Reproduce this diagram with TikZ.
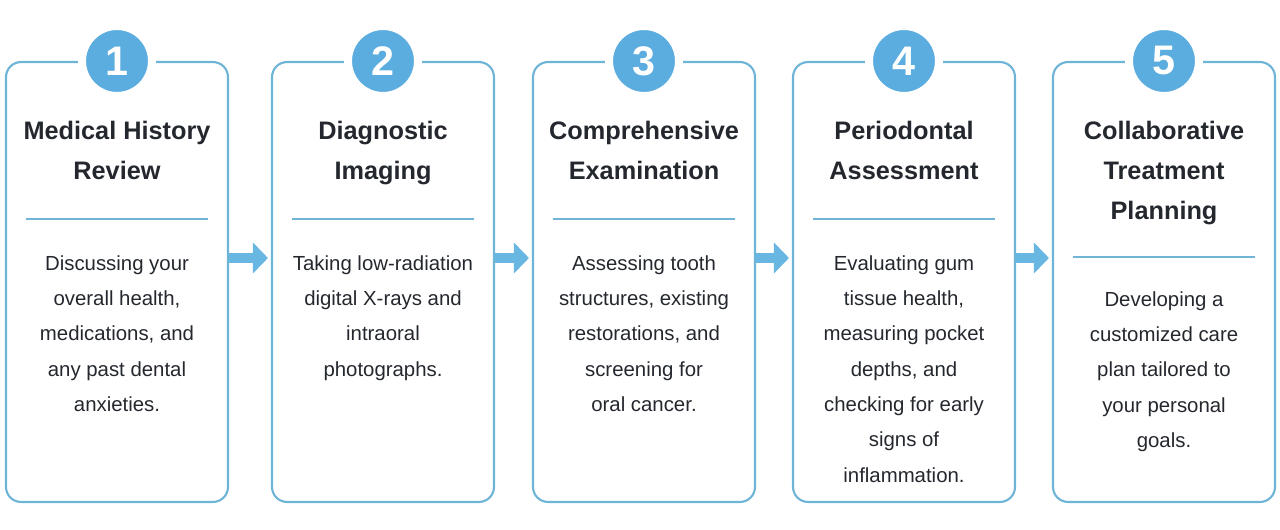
\documentclass[tikz,border=0pt]{standalone}
\usepackage{fontspec}
\setmainfont{Liberation Sans}
\usepackage{tikz}
\usetikzlibrary{calc,arrows.meta,positioning}
\definecolor{cardline}{RGB}{110,180,214}
\definecolor{badgeblue}{RGB}{92,173,223}
\definecolor{flowblue}{RGB}{104,182,226}
\definecolor{inkgray}{RGB}{36,40,46}

\begin{document}
\begin{tikzpicture}[x=0.02cm, y=-0.02cm,
    card/.style={draw=cardline, line width=1.2pt, rounded corners=0.3cm, inner sep=0,
      minimum width=4.44cm, minimum height=8.8cm},
    badge/.style={circle, fill=badgeblue, draw=white, line width=0.16cm, inner sep=0,
      minimum size=1.4cm, text=white, font=\bfseries\fontsize{23.5}{23.5}\selectfont},
    heading/.style={anchor=north, inner sep=0, align=center, text=inkgray,
      font=\bfseries\fontsize{14.4}{22.7}\selectfont},
    body/.style={anchor=north, inner sep=0, align=center, text=inkgray,
      font=\fontsize{11.6}{20.1}\selectfont},
    divider/.style={cardline, line width=1.1pt},
    flow/.style={flowblue, line width=0.22cm, -{Triangle[length=0.3cm, width=0.6cm]}}]
      \useasboundingbox (0,0) rectangle (1280,530);
      % Cards
      \node[card] (c1) at (117,282) {};
      \node[card] (c2) at (383,282) {};
      \node[card] (c3) at (644,282) {};
      \node[card] (c4) at (904,282) {};
      \node[card] (c5) at (1164,282) {};
      % Number badges on the top edge
      \node[badge] (n1) at (c1.north) {1};
      \node[badge] (n2) at (c2.north) {2};
      \node[badge] (n3) at (c3.north) {3};
      \node[badge] (n4) at (c4.north) {4};
      \node[badge] (n5) at (c5.north) {5};
      % Headings
      \node[heading] (t1) at ($(c1.north)+(0,60)$) {Medical History\\Review};
      \node[heading] (t2) at ($(c2.north)+(0,60)$) {Diagnostic\\Imaging};
      \node[heading] (t3) at ($(c3.north)+(0,60)$) {Comprehensive\\Examination};
      \node[heading] (t4) at ($(c4.north)+(0,60)$) {Periodontal\\Assessment};
      \node[heading] (t5) at ($(c5.north)+(0,60)$) {Collaborative\\Treatment\\Planning};
      % Dividers
      \draw[divider] ($(c1.north west)+(21,158)$) -- ($(c1.north east)+(-21,158)$);
      \draw[divider] ($(c2.north west)+(21,158)$) -- ($(c2.north east)+(-21,158)$);
      \draw[divider] ($(c3.north west)+(21,158)$) -- ($(c3.north east)+(-21,158)$);
      \draw[divider] ($(c4.north west)+(21,158)$) -- ($(c4.north east)+(-21,158)$);
      \draw[divider] ($(c5.north west)+(21,196)$) -- ($(c5.north east)+(-21,196)$);
      % Descriptions
      \node[body] (d1) at ($(c1.north)+(0,194)$) {Discussing your\\overall health,\\medications, and\\any past dental\\anxieties.};
      \node[body] (d2) at ($(c2.north)+(0,194)$) {Taking low-radiation\\digital X-rays and\\intraoral\\photographs.};
      \node[body] (d3) at ($(c3.north)+(0,194)$) {Assessing tooth\\structures, existing\\restorations, and\\screening for\\oral cancer.};
      \node[body] (d4) at ($(c4.north)+(0,194)$) {Evaluating gum\\tissue health,\\measuring pocket\\depths, and\\checking for early\\signs of\\inflammation.};
      \node[body] (d5) at ($(c5.north)+(0,230)$) {Developing a\\customized care\\plan tailored to\\your personal\\goals.};
      % Arrows between cards
      \draw[flow] ($(c1.east)+(0,-24)$) -- ($(c2.west)+(-3,-24)$);
      \draw[flow] ($(c2.east)+(0,-24)$) -- ($(c3.west)+(-3,-24)$);
      \draw[flow] ($(c3.east)+(0,-24)$) -- ($(c4.west)+(-3,-24)$);
      \draw[flow] ($(c4.east)+(0,-24)$) -- ($(c5.west)+(-3,-24)$);
\end{tikzpicture}
\end{document}
